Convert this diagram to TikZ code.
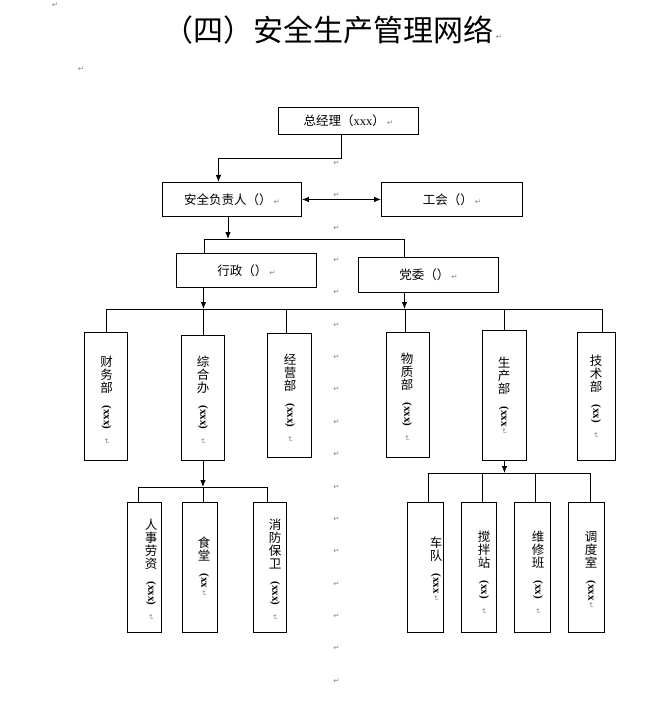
\documentclass[tikz,border=0pt]{standalone}
\usepackage{fontspec}
\usepackage{graphicx}
\setmainfont{Noto Sans CJK SC}
\newfontfamily\latf{Liberation Serif}
\newfontfamily\symf{DejaVu Sans}
\usetikzlibrary{arrows.meta}
\definecolor{markgray}{HTML}{8A8A8A}
\newcommand{\mk}{{\symf\fontsize{7.5pt}{7.5pt}\selectfont\textcolor{markgray}{↵}}}
\newcommand{\mkv}{\rotatebox{-90}{\mk}}
\newcommand{\vx}[1]{\rotatebox{-90}{\latf\bfseries\fontsize{11pt}{11pt}\selectfont #1}}
\tikzset{
  box/.style={draw, line width=0.9pt, inner sep=0pt, anchor=north west,
    font=\fontsize{12.5pt}{14pt}\selectfont},
  vt/.style={anchor=north, align=center, inner sep=0pt,
    font=\fontsize{12.5pt}{13pt}\selectfont},
  ln/.style={line width=0.9pt},
  arr/.style={line width=0.9pt, -{Latex[length=7pt,width=5.5pt]}},
  darr/.style={line width=0.9pt, {Latex[length=7pt,width=5.5pt]}-{Latex[length=7pt,width=5.5pt]}},
  mkn/.style={inner sep=0pt}
}
\begin{document}
\begin{tikzpicture}[x=1pt,y=-1pt]
\useasboundingbox (0,0) rectangle (658,703);

% title and stray marks
\node[inner sep=0pt, font=\fontsize{30pt}{32pt}\selectfont] (title) at (328,30) {（四）安全生产管理网络};
\node[mkn] (tm) at (499,37) {\mk};
\node[mkn] (m0a) at (55,5) {\mk};
\node[mkn] (m0b) at (81,69) {\mk};

% column of paragraph marks
\foreach \i in {0,...,16}{
  \node[mkn] (m\i) at (336.5,{163+32.375*\i}) {\mk};
}

% top level boxes
\node[box, minimum width=140pt, minimum height=27pt] (gm) at (278,107) {总经理（{\latf xxx}）\,\mk};
\node[box, minimum width=139pt, minimum height=34pt] (aq) at (162,182) {安全负责人（）\,\mk};
\node[box, minimum width=141pt, minimum height=34pt] (gh) at (381,182) {工会（）\,\mk};
\node[box, minimum width=140pt, minimum height=34pt] (xz) at (176,253) {行政（）\,\mk};
\node[box, minimum width=140pt, minimum height=35pt] (dw) at (358,257) {党委（）\,\mk};

% departments
\node[box, minimum width=43pt, minimum height=128pt] (cw) at (84,332) {};
\node[box, minimum width=43pt, minimum height=125pt] (zh) at (181,335) {};
\node[box, minimum width=44pt, minimum height=124pt] (jy) at (267,333) {};
\node[box, minimum width=43pt, minimum height=125pt] (wz) at (386,332) {};
\node[box, minimum width=44pt, minimum height=130pt] (sc) at (482,330) {};
\node[box, minimum width=38pt, minimum height=128pt] (js) at (577,332) {};

\node[vt] (cwt) at (106.5,356) {财\\务\\部\\\vx{(xxx)}\\[8pt]\mkv};
\node[vt] (zht) at (203,356) {综\\合\\办\\\vx{(xxx)}\\[8pt]\mkv};
\node[vt] (jyt) at (290,354) {经\\营\\部\\\vx{(xxx)}\\[8pt]\mkv};
\node[vt] (wzt) at (407,353) {物\\质\\部\\\vx{(xxx)}\\[8pt]\mkv};
\node[vt] (sct) at (504,357) {生\\产\\部\\\vx{(xxx}\\[1pt]\mkv};
\node[vt] (jst) at (596,355) {技\\术\\部\\\vx{(xx)}\\[8pt]\mkv};

% sub units under 综合办
\node[box, minimum width=34pt, minimum height=130pt] (rs) at (127,502) {};
\node[box, minimum width=35pt, minimum height=130pt] (st) at (182,502) {};
\node[box, minimum width=33pt, minimum height=130pt] (xf) at (253,502) {};
\node[vt] (rst) at (151,519) {人\\事\\劳\\资\\\vx{(xxx)}\\[8pt]\mkv};
\node[vt] (stt) at (204,537) {食\\堂\\\vx{(xx}\\[1pt]\mkv};
\node[vt] (xft) at (275,519) {消\\防\\保\\卫\\\vx{(xxx)}\\[8pt]\mkv};

% sub units under 生产部
\node[box, minimum width=36pt, minimum height=130pt] (cd) at (407,502) {};
\node[box, minimum width=35pt, minimum height=130pt] (jb) at (461,502) {};
\node[box, minimum width=36pt, minimum height=130pt] (wx) at (514,502) {};
\node[box, minimum width=36pt, minimum height=130pt] (dd) at (568,502) {};
\node[vt] (cdt) at (436,537) {车\\队\\\vx{(xxx}\\[1pt]\mkv};
\node[vt] (jbt) at (484,531) {搅\\拌\\站\\\vx{(xx)}\\[8pt]\mkv};
\node[vt] (wxt) at (538,531) {维\\修\\班\\\vx{(xx)}\\[8pt]\mkv};
\node[vt] (ddt) at (591,531) {调\\度\\室\\\vx{(xxx}\\[1pt]\mkv};

% helper coordinates for bus lines
\coordinate (b1) at (0,239);
\coordinate (b2) at (0,309);
\coordinate (b3) at (0,487);
\coordinate (b4) at (0,473);

% connectors
\draw[arr] ([xshift=-7pt]gm.south) -- ++(0,24) -| ([xshift=-13.5pt]aq.north);
\draw[darr] (aq.east) -- (gh.west);
\draw[arr] ([xshift=-4pt]aq.south) -- ([xshift=-4pt]aq.south |- b1);
\draw[ln] ([xshift=-42pt]xz.north) |- ([xshift=-24pt]dw.north |- b1) -- ([xshift=-24pt]dw.north);

\draw[arr] ([xshift=-43pt]xz.south) -- ([xshift=-43pt]xz.south |- b2);
\draw[arr] ([xshift=-24pt]dw.south) -- ([xshift=-24pt]dw.south |- b2);
\draw[ln] (cw.north |- b2) -- ([xshift=6pt]js.north |- b2);
\draw[ln] (cw.north) -- (cw.north |- b2);
\draw[ln] (zh.north) -- (zh.north |- b2);
\draw[ln] ([xshift=-3pt]jy.north) -- ([xshift=-3pt]jy.north |- b2);
\draw[ln] ([xshift=-2.5pt]wz.north) -- ([xshift=-2.5pt]wz.north |- b2);
\draw[ln] (sc.north) -- (sc.north |- b2);
\draw[ln] ([xshift=6pt]js.north) -- ([xshift=6pt]js.north |- b2);

\draw[arr] (zh.south) -- (zh.south |- b3);
\draw[ln] ([xshift=-6pt]rs.north |- b3) -- ([xshift=-2.5pt]xf.north |- b3);
\draw[ln] ([xshift=-6pt]rs.north) -- ([xshift=-6pt]rs.north |- b3);
\draw[ln] ([xshift=3.5pt]st.north) -- ([xshift=3.5pt]st.north |- b3);
\draw[ln] ([xshift=-2.5pt]xf.north) -- ([xshift=-2.5pt]xf.north |- b3);

\draw[arr] (sc.south) -- (sc.south |- b4);
\draw[ln] ([xshift=3pt]cd.north |- b4) -- ([xshift=4pt]dd.north |- b4);
\draw[ln] ([xshift=3pt]cd.north) -- ([xshift=3pt]cd.north |- b4);
\draw[ln] ([xshift=3.5pt]jb.north) -- ([xshift=3.5pt]jb.north |- b4);
\draw[ln] ([xshift=3pt]wx.north) -- ([xshift=3pt]wx.north |- b4);
\draw[ln] ([xshift=4pt]dd.north) -- ([xshift=4pt]dd.north |- b4);
\end{tikzpicture}
\end{document}
